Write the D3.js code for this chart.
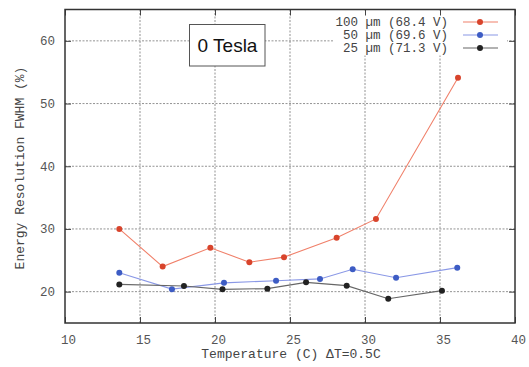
<!DOCTYPE html>
<html>
<head>
<meta charset="utf-8">
<script src="https://cdn.jsdelivr.net/npm/d3@7/dist/d3.min.js"></script>
<style>
html,body{margin:0;padding:0;background:#fff;}
svg{display:block;}
</style>
</head>
<body>
<svg id="chart" width="529" height="367"></svg>
<script>
const xTicks = [10, 15, 20, 25, 30, 35, 40];
const yTicks = [20, 30, 40, 50, 60];

const series100Name = "100 µm (68.4 V)";
const series100X = [13.62, 16.51, 19.69, 22.29, 24.6, 28.11, 30.73, 36.2];
const series100Y = [30.0, 24.0, 27.0, 24.7, 25.5, 28.6, 31.6, 54.1];

const series50Name = "50 µm (69.6 V)";
const series50X = [13.62, 17.13, 20.6, 24.07, 27.0, 29.18, 32.07, 36.15];
const series50Y = [23.0, 20.4, 21.4, 21.75, 22.03, 23.56, 22.23, 23.83];

const series25Name = "25 µm (71.3 V)";
const series25X = [13.62, 17.93, 20.5, 23.49, 26.07, 28.78, 31.55, 35.13];
const series25Y = [21.16, 20.9, 20.37, 20.48, 21.48, 20.96, 18.88, 20.16];

const titleText = "0 Tesla";
const xLabel = "Temperature (C) \u0394T=0.5C";
const yLabel = "Energy Resolution FWHM (%)";

const series = [
  {name: series100Name, xs: series100X, ys: series100Y, line: "#f0806a", dot: "#d8442c"},
  {name: series50Name, xs: series50X, ys: series50Y, line: "#8a98e6", dot: "#3d5cc4"},
  {name: series25Name, xs: series25X, ys: series25Y, line: "#666", dot: "#222"}
];

const svg = d3.select("#chart");
const L = 65, R = 515, T = 9.5, B = 323;
const x = d3.scaleLinear().domain([10, 40]).range([L, R]);
const y = d3.scaleLinear().domain([15, 65]).range([B, T]);
const mono = "'Liberation Mono','DejaVu Sans Mono',monospace";

// grid
const grid = svg.append("g");
grid.selectAll("line.gx").data(xTicks.slice(1, -1)).enter().append("line")
  .attr("x1", d => x(d)).attr("x2", d => x(d)).attr("y1", T).attr("y2", B)
  .attr("stroke", "#777").attr("stroke-width", 0.8).attr("stroke-dasharray", "2,1.5");
grid.selectAll("line.gy").data(yTicks).enter().append("line")
  .attr("y1", d => y(d)).attr("y2", d => y(d)).attr("x1", L).attr("x2", R)
  .attr("stroke", "#777").attr("stroke-width", 0.8).attr("stroke-dasharray", "2,1.5");

// legend background
svg.append("rect").attr("x", 333).attr("y", T + 1).attr("width", 174).attr("height", 45).attr("fill", "#fff");

// title box
svg.append("rect").attr("x", 189.5).attr("y", 24.5).attr("width", 75.5).attr("height", 41.5)
  .attr("fill", "#fff").attr("stroke", "#555").attr("stroke-width", 1);
svg.append("text").attr("x", 227.5).attr("y", 52).attr("text-anchor", "middle")
  .attr("font-family", "'Liberation Sans',Arial,sans-serif").attr("font-size", 19)
  .attr("fill", "#111").text(titleText);

// series
const line = d3.line().x(d => x(d[0])).y(d => y(d[1]));
series.forEach(s => {
  const pts = s.xs.map((v, i) => [v, s.ys[i]]);
  svg.append("path").datum(pts).attr("d", line).attr("fill", "none")
    .attr("stroke", s.line).attr("stroke-width", 1.1);
  svg.selectAll(null).data(pts).enter().append("circle")
    .attr("cx", d => x(d[0])).attr("cy", d => y(d[1])).attr("r", 3)
    .attr("fill", s.dot);
});

// frame and axes
const axB = svg.append("g").attr("transform", `translate(0,${B})`)
  .call(d3.axisBottom(x).tickValues(xTicks).tickSize(-6).tickPadding(12));
const axT = svg.append("g").attr("transform", `translate(0,${T})`)
  .call(d3.axisTop(x).tickValues(xTicks).tickSize(-6).tickFormat(""));
const axL = svg.append("g").attr("transform", `translate(${L},0)`)
  .call(d3.axisLeft(y).tickValues(yTicks).tickSize(-6).tickPadding(10));
const axR = svg.append("g").attr("transform", `translate(${R},0)`)
  .call(d3.axisRight(y).tickValues(yTicks).tickSize(-6).tickFormat(""));
[axB, axT, axL, axR].forEach(a => {
  a.select(".domain").remove();
  a.selectAll(".tick line").attr("stroke", "#444").attr("stroke-width", 1);
  a.selectAll("text").attr("font-family", mono).attr("font-size", 12.5).attr("fill", "#555");
});
axB.selectAll("text").attr("dx", 3);
svg.append("rect").attr("x", L).attr("y", T).attr("width", R - L).attr("height", B - T)
  .attr("fill", "none").attr("stroke", "#333").attr("stroke-width", 1.5);

// legend
series.forEach((s, i) => {
  const ly = 22 + i * 13;
  svg.append("text").attr("x", 448).attr("y", ly + 4).attr("text-anchor", "end")
    .attr("font-family", mono).attr("font-size", 12.5).attr("fill", "#444").text(s.name);
  svg.append("line").attr("x1", 463).attr("x2", 498).attr("y1", ly).attr("y2", ly)
    .attr("stroke", s.line).attr("stroke-width", 1.1);
  svg.append("circle").attr("cx", 480).attr("cy", ly).attr("r", 3).attr("fill", s.dot);
});

// axis labels
svg.append("text").attr("x", 291).attr("y", 358).attr("text-anchor", "middle")
  .attr("font-family", mono).attr("font-size", 13).attr("fill", "#444").text(xLabel);
svg.append("text").attr("transform", "translate(24,168) rotate(-90)").attr("text-anchor", "middle")
  .attr("font-family", mono).attr("font-size", 13).attr("fill", "#444").text(yLabel);
</script>
</body>
</html>
